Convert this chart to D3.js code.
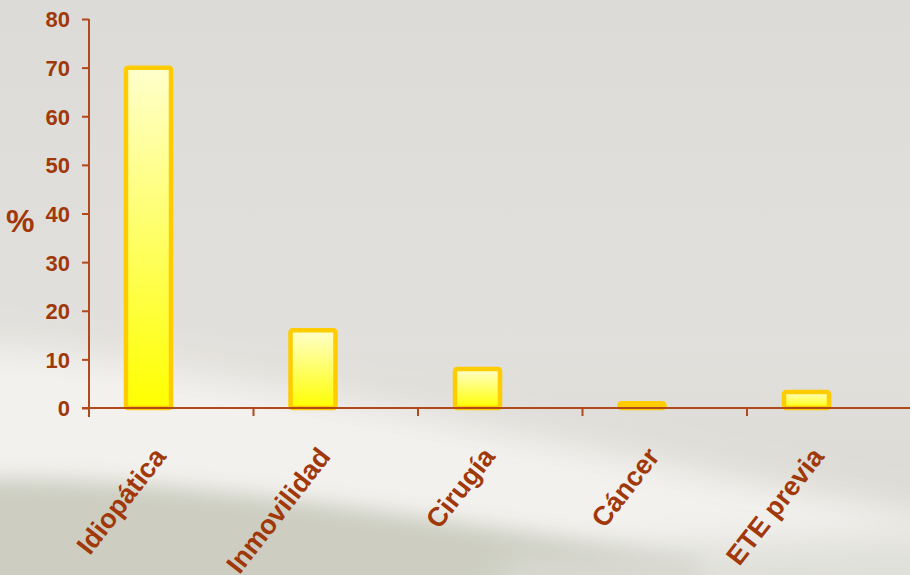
<!DOCTYPE html>
<html><head><meta charset="utf-8">
<script src="https://cdn.jsdelivr.net/npm/d3@7"></script>
<style>html,body{margin:0;padding:0;background:#dedcd8;}svg{display:block;}</style>
</head><body>
<svg id="chart" width="910" height="575"></svg>
<script>
const categories = ["Idiopática","Inmovilidad","Cirugía","Cáncer","ETE previa"];
const values = [70, 16, 8, 1, 3.3];
const yTicks = [0,10,20,30,40,50,60,70,80];
const yLabel = "%";

const W = 910, H = 575;
const svg = d3.select("#chart");
const defs = svg.append("defs");

// background
const bg = defs.append("linearGradient").attr("id","bg").attr("x1",0).attr("y1",0).attr("x2",0).attr("y2",1);
bg.append("stop").attr("offset","0%").attr("stop-color","#dcdbd8");
bg.append("stop").attr("offset","60%").attr("stop-color","#e2e0dc");
bg.append("stop").attr("offset","100%").attr("stop-color","#d8d7d0");
svg.append("rect").attr("width",W).attr("height",H).attr("fill","url(#bg)");
const blur = defs.append("filter").attr("id","blur").attr("x","-50%").attr("y","-50%").attr("width","200%").attr("height","200%");
blur.append("feGaussianBlur").attr("stdDeviation",18);
const blur2 = defs.append("filter").attr("id","blur2").attr("x","-50%").attr("y","-50%").attr("width","200%").attr("height","200%");
blur2.append("feGaussianBlur").attr("stdDeviation",10);
// white swoosh
svg.append("path").attr("d","M-40,345 C150,355 450,420 950,520 L950,600 L-40,600 Z")
  .attr("fill","#f4f3f0").attr("filter","url(#blur)").attr("opacity",0.95);
// greenish bottom
svg.append("path").attr("d","M-40,480 C150,470 450,520 700,560 L700,620 L-40,620 Z")
  .attr("fill","#c9cbbd").attr("filter","url(#blur2)").attr("opacity",0.9);
svg.append("path").attr("d","M500,560 C650,545 800,540 950,530 L950,620 L500,620 Z")
  .attr("fill","#dcdcd6").attr("filter","url(#blur)").attr("opacity",0.8);

// bar gradient
const bgGrad = defs.append("linearGradient").attr("id","barg").attr("x1",0).attr("y1",0).attr("x2",0).attr("y2",1);
bgGrad.append("stop").attr("offset","0%").attr("stop-color","#ffffcc");
bgGrad.append("stop").attr("offset","100%").attr("stop-color","#ffff00");

const x0 = 89, x1 = 911.5, yTop = 19, yBot = 408;
const x = d3.scaleBand().domain(categories).range([x0, x1]).paddingInner(0).paddingOuter(0);
const y = d3.scaleLinear().domain([0,80]).range([yBot, yTop]);

const textColor = "#a0380a";
const axisColor = "#b0491c";
const barW = 45;
const barOffset = 37;

// bars
svg.append("g").selectAll("rect").data(categories).join("rect")
  .attr("x", d => x(d) + barOffset)
  .attr("width", barW)
  .attr("y", (d,i) => y(values[i]))
  .attr("height", (d,i) => yBot - y(values[i]))
  .attr("rx", 2)
  .attr("fill", (d,i) => values[i] < 2 ? "#ffcc00" : "url(#barg)")
  .attr("stroke", "#ffcc00").attr("stroke-width", 4.5);

// y axis
const yAxis = d3.axisLeft(y).tickValues(yTicks).tickSize(7).tickPadding(12).tickFormat(d3.format("d"));
const gy = svg.append("g").attr("transform",`translate(${x0},0)`).call(yAxis);
gy.select(".domain").remove();
gy.append("line").attr("x1",0).attr("x2",0).attr("y1",yTop).attr("y2",yBot+9).attr("stroke",axisColor).attr("stroke-width",2);
gy.selectAll(".tick line").attr("stroke",axisColor).attr("stroke-width",2);
gy.selectAll(".tick text").attr("fill",textColor).attr("font-family","Liberation Sans, Arial, sans-serif")
  .attr("font-weight","bold").attr("font-size",22).attr("dy","0.36em");

// x axis
const gx = svg.append("g").attr("transform",`translate(0,${yBot})`);
gx.append("line").attr("x1",x0-7).attr("x2",W).attr("y1",0).attr("y2",0).attr("stroke",axisColor).attr("stroke-width",2);
gx.selectAll("line.tk").data(categories.slice(1)).join("line").attr("class","tk")
  .attr("x1", d => x(d)).attr("x2", d => x(d)).attr("y1",0).attr("y2",8)
  .attr("stroke",axisColor).attr("stroke-width",2);
gx.selectAll("text").data(categories).join("text")
  .attr("transform", d => `translate(${x(d) + x.bandwidth()/2 - 4},${49}) rotate(-52)`)
  .attr("text-anchor","end")
  .attr("fill",textColor).attr("font-family","Liberation Sans, Arial, sans-serif")
  .attr("font-weight","bold").attr("font-size",27)
  .text(d => d);

// y label
svg.append("text").attr("x",6).attr("y",232).attr("fill",textColor)
  .attr("font-family","Liberation Sans, Arial, sans-serif").attr("font-weight","bold").attr("font-size",32)
  .text(yLabel);
</script>
</body></html>
